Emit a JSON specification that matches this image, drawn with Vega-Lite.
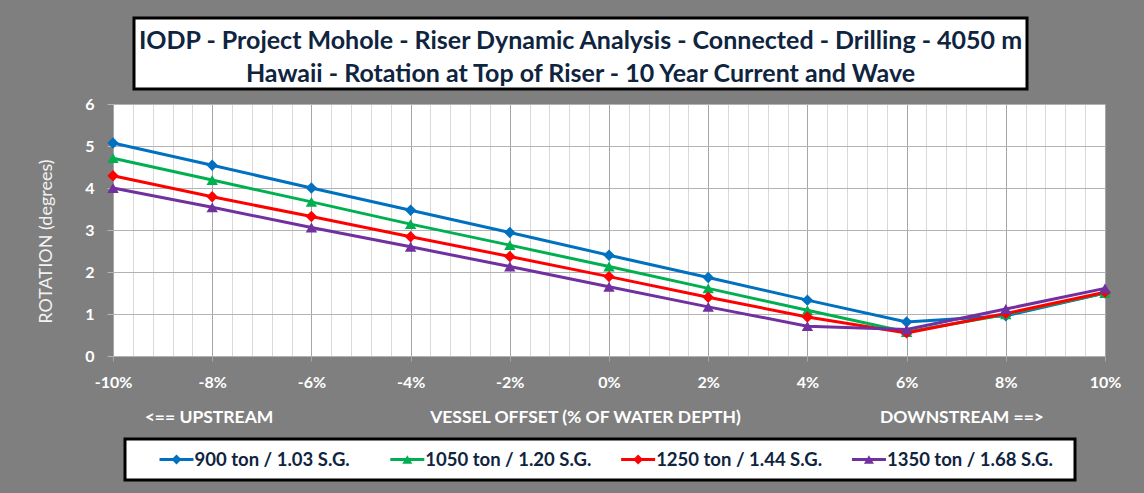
{
  "$schema": "https://vega.github.io/schema/vega-lite/v6.json",
  "background": "#7f7f7f",
  "padding": {"left": 37, "top": 16, "right": 27, "bottom": 15},
  "spacing": 5,
  "config": {
    "font": "Lato",
    "view": {"stroke": null},
    "concat": {"spacing": 5}
  },
  "datasets": {
    "rot": [
      {"series": "900 ton / 1.03 S.G.", "offset": -10, "rotation": 5.07},
      {"series": "900 ton / 1.03 S.G.", "offset": -8, "rotation": 4.54},
      {"series": "900 ton / 1.03 S.G.", "offset": -6, "rotation": 4.0},
      {"series": "900 ton / 1.03 S.G.", "offset": -4, "rotation": 3.47},
      {"series": "900 ton / 1.03 S.G.", "offset": -2, "rotation": 2.94},
      {"series": "900 ton / 1.03 S.G.", "offset": 0, "rotation": 2.4},
      {"series": "900 ton / 1.03 S.G.", "offset": 2, "rotation": 1.87},
      {"series": "900 ton / 1.03 S.G.", "offset": 4, "rotation": 1.33},
      {"series": "900 ton / 1.03 S.G.", "offset": 6, "rotation": 0.81},
      {"series": "900 ton / 1.03 S.G.", "offset": 8, "rotation": 0.96},
      {"series": "900 ton / 1.03 S.G.", "offset": 10, "rotation": 1.5},
      {"series": "1050 ton / 1.20 S.G.", "offset": -10, "rotation": 4.71},
      {"series": "1050 ton / 1.20 S.G.", "offset": -8, "rotation": 4.19},
      {"series": "1050 ton / 1.20 S.G.", "offset": -6, "rotation": 3.67},
      {"series": "1050 ton / 1.20 S.G.", "offset": -4, "rotation": 3.14},
      {"series": "1050 ton / 1.20 S.G.", "offset": -2, "rotation": 2.64},
      {"series": "1050 ton / 1.20 S.G.", "offset": 0, "rotation": 2.13},
      {"series": "1050 ton / 1.20 S.G.", "offset": 2, "rotation": 1.61},
      {"series": "1050 ton / 1.20 S.G.", "offset": 4, "rotation": 1.09},
      {"series": "1050 ton / 1.20 S.G.", "offset": 6, "rotation": 0.57},
      {"series": "1050 ton / 1.20 S.G.", "offset": 8, "rotation": 0.99},
      {"series": "1050 ton / 1.20 S.G.", "offset": 10, "rotation": 1.5},
      {"series": "1250 ton / 1.44 S.G.", "offset": -10, "rotation": 4.29},
      {"series": "1250 ton / 1.44 S.G.", "offset": -8, "rotation": 3.79},
      {"series": "1250 ton / 1.44 S.G.", "offset": -6, "rotation": 3.32},
      {"series": "1250 ton / 1.44 S.G.", "offset": -4, "rotation": 2.84},
      {"series": "1250 ton / 1.44 S.G.", "offset": -2, "rotation": 2.37},
      {"series": "1250 ton / 1.44 S.G.", "offset": 0, "rotation": 1.89},
      {"series": "1250 ton / 1.44 S.G.", "offset": 2, "rotation": 1.4},
      {"series": "1250 ton / 1.44 S.G.", "offset": 4, "rotation": 0.93},
      {"series": "1250 ton / 1.44 S.G.", "offset": 6, "rotation": 0.55},
      {"series": "1250 ton / 1.44 S.G.", "offset": 8, "rotation": 1.01},
      {"series": "1250 ton / 1.44 S.G.", "offset": 10, "rotation": 1.52},
      {"series": "1350 ton / 1.68 S.G.", "offset": -10, "rotation": 4.0},
      {"series": "1350 ton / 1.68 S.G.", "offset": -8, "rotation": 3.54},
      {"series": "1350 ton / 1.68 S.G.", "offset": -6, "rotation": 3.06},
      {"series": "1350 ton / 1.68 S.G.", "offset": -4, "rotation": 2.6},
      {"series": "1350 ton / 1.68 S.G.", "offset": -2, "rotation": 2.13},
      {"series": "1350 ton / 1.68 S.G.", "offset": 0, "rotation": 1.65},
      {"series": "1350 ton / 1.68 S.G.", "offset": 2, "rotation": 1.17},
      {"series": "1350 ton / 1.68 S.G.", "offset": 4, "rotation": 0.71},
      {"series": "1350 ton / 1.68 S.G.", "offset": 6, "rotation": 0.63},
      {"series": "1350 ton / 1.68 S.G.", "offset": 8, "rotation": 1.12},
      {"series": "1350 ton / 1.68 S.G.", "offset": 10, "rotation": 1.61}
    ],
    "titles": [
      {"line": 1, "text": "IODP - Project Mohole - Riser Dynamic Analysis - Connected - Drilling - 4050 m"},
      {"line": 2, "text": "Hawaii - Rotation at Top of Riser - 10 Year Current and Wave"}
    ],
    "notes": [
      {"part": "a", "text": "<== UPSTREAM"},
      {"part": "b", "text": "VESSEL OFFSET (% OF WATER DEPTH)"},
      {"part": "c", "text": "DOWNSTREAM ==>"}
    ],
    "keys": [
      {"series": "900 ton / 1.03 S.G."},
      {"series": "1050 ton / 1.20 S.G."},
      {"series": "1250 ton / 1.44 S.G."},
      {"series": "1350 ton / 1.68 S.G."}
    ]
  },
  "vconcat": [
    {
      "hconcat": [
        {"width": 19, "height": 71, "data": {"values": []}, "mark": "point"},
        {
          "width": 893,
          "height": 71,
          "data": {"name": "titles"},
          "view": {"fill": "white", "stroke": "black", "strokeWidth": 3},
          "mark": {"type": "text", "fontSize": 25, "fontWeight": "bold", "color": "#0f243e"},
          "encoding": {
            "y": {"field": "line", "type": "ordinal", "scale": {"type": "point", "padding": 0.6, "align": 0.6}, "axis": null},
            "text": {"field": "text"}
          }
        }
      ],
      "spacing": 0
    },
    {
      "width": 992,
      "height": 252,
      "data": {"name": "rot"},
      "view": {"fill": "white", "stroke": null},
      "encoding": {
        "y": {
          "field": "rotation",
          "type": "quantitative",
          "scale": {"domain": [0, 6], "nice": false},
          "axis": {
            "values": [0, 1, 2, 3, 4, 5, 6],
            "grid": true,
            "gridColor": "#b3b3b3",
            "domain": false,
            "tickColor": "#b3b3b3",
            "tickSize": 6,
            "labelColor": "white",
            "labelFontSize": 16,
            "labelFontWeight": "bold",
            "labelPadding": 13,
            "title": "ROTATION (degrees)",
            "titleColor": "#f2f2f2",
            "titleFontSize": 18,
            "titleFontWeight": "normal",
            "titlePadding": 29,
            "titleY": 137
          }
        },
        "color": {
          "field": "series",
          "type": "nominal",
          "scale": {
            "domain": ["900 ton / 1.03 S.G.", "1050 ton / 1.20 S.G.", "1250 ton / 1.44 S.G.", "1350 ton / 1.68 S.G."],
            "range": ["#0070c0", "#00b050", "#ff0000", "#7030a0"]
          },
          "legend": null
        }
      },
      "layer": [
        {
          "mark": {"type": "line", "strokeWidth": 3},
          "encoding": {
            "x": {
              "field": "offset",
              "type": "quantitative",
              "scale": {"domain": [-10, 10], "nice": false, "zero": false},
              "axis": {
                "orient": "bottom",
                "values": [-10, -8, -6, -4, -2, 0, 2, 4, 6, 8, 10],
                "labelExpr": "datum.value + '%'",
                "grid": true,
                "gridColor": "#a6a6a6",
                "domain": false,
                "ticks": true,
                "tickColor": "#a6a6a6",
                "tickSize": 5,
                "labelColor": "white",
                "labelFontSize": 16,
                "labelFontWeight": "bold",
                "labelPadding": 13,
                "labelFlush": false,
                "title": null
              }
            }
          }
        },
        {
          "mark": {"type": "point", "filled": true, "size": 130, "opacity": 1},
          "encoding": {
            "x": {
              "field": "offset",
              "type": "quantitative",
              "scale": {"domain": [-10, 10], "nice": false, "zero": false},
              "axis": {
                "orient": "top",
                "values": [-9.6, -9.2, -8.8, -8.4, -7.6, -7.2, -6.8, -6.4, -5.6, -5.2, -4.8, -4.4, -3.6, -3.2, -2.8, -2.4, -1.6, -1.2, -0.8, -0.4, 0.4, 0.8, 1.2, 1.6, 2.4, 2.8, 3.2, 3.6, 4.4, 4.8, 5.2, 5.6, 6.4, 6.8, 7.2, 7.6, 8.4, 8.8, 9.2, 9.6],
                "grid": true,
                "gridColor": "#d9d9d9",
                "labels": false,
                "ticks": false,
                "domain": false,
                "title": null
              }
            },
            "shape": {
              "field": "series",
              "type": "nominal",
              "scale": {
                "domain": ["900 ton / 1.03 S.G.", "1050 ton / 1.20 S.G.", "1250 ton / 1.44 S.G.", "1350 ton / 1.68 S.G."],
                "range": ["diamond", "triangle-up", "diamond", "triangle-up"]
              },
              "legend": null
            }
          }
        }
      ],
      "resolve": {"axis": {"x": "independent"}}
    },
    {
      "hconcat": [
        {"width": 31, "height": 37, "data": {"values": []}, "mark": "point"},
        {
          "width": 753,
          "height": 37,
          "data": {"name": "notes"},
          "mark": {"type": "text", "fontSize": 17.5, "fontWeight": "bold", "color": "white", "dy": 4},
          "encoding": {
            "x": {"field": "part", "type": "nominal", "scale": {"type": "point", "padding": 0}, "axis": null},
            "text": {"field": "text"}
          }
        }
      ],
      "spacing": 0
    },
    {
      "hconcat": [
        {"width": 10, "height": 41, "data": {"values": []}, "mark": "point"},
        {
          "width": 950,
          "height": 41,
          "data": {"name": "keys"},
          "view": {"fill": "white", "stroke": "black", "strokeWidth": 3},
          "encoding": {
            "x": {
              "field": "series",
              "type": "nominal",
              "sort": null,
              "scale": {"type": "point", "padding": 0.558, "align": 0.2},
              "axis": null
            },
            "color": {
              "field": "series",
              "type": "nominal",
              "scale": {
                "domain": ["900 ton / 1.03 S.G.", "1050 ton / 1.20 S.G.", "1250 ton / 1.44 S.G.", "1350 ton / 1.68 S.G."],
                "range": ["#0070c0", "#00b050", "#ff0000", "#7030a0"]
              },
              "legend": null
            }
          },
          "layer": [
            {"mark": {"type": "point", "shape": "stroke", "size": 1156, "strokeWidth": 3, "filled": false, "opacity": 1}},
            {
              "mark": {"type": "point", "filled": true, "size": 100, "opacity": 1},
              "encoding": {
                "shape": {
                  "field": "series",
                  "type": "nominal",
                  "scale": {
                    "domain": ["900 ton / 1.03 S.G.", "1050 ton / 1.20 S.G.", "1250 ton / 1.44 S.G.", "1350 ton / 1.68 S.G."],
                    "range": ["diamond", "triangle-up", "diamond", "triangle-up"]
                  },
                  "legend": null
                }
              }
            },
            {
              "mark": {"type": "text", "align": "left", "dx": 18, "fontSize": 18.5, "fontWeight": "bold", "color": "#0f243e"},
              "encoding": {"text": {"field": "series"}, "color": {"value": "#0f243e"}}
            }
          ]
        }
      ],
      "spacing": 0
    }
  ]
}
